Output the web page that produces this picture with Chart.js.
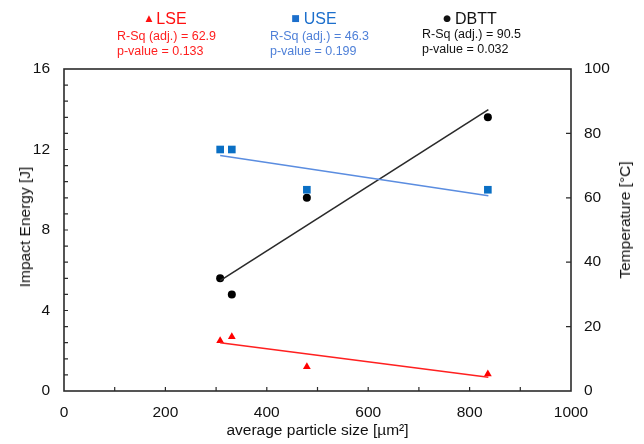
<!DOCTYPE html>
<html>
<head>
<meta charset="utf-8">
<script src="https://cdn.jsdelivr.net/npm/chart.js@4.4.0/dist/chart.umd.min.js"></script>
<style>
  body { margin: 0; background: #fff; font-family: "Liberation Sans", Arial, sans-serif; }
  #wrap { position: relative; width: 644px; height: 444px; }
  #mycanvas { position: absolute; left: 0; top: 0; }
  .title { position: absolute; top: 9px; font-size: 16px; line-height: 18px; white-space: nowrap; transform: translateX(-50%); }
  .title .sym { font-size: 9px; vertical-align: 3px; margin-right: 4px; font-family: "DejaVu Sans", sans-serif; }
  .stat { position: absolute; top: 29px; font-size: 12.5px; line-height: 15px; white-space: nowrap; }
  .axname { position: absolute; font-size: 15.5px; line-height: 16px; color: #111; white-space: nowrap;
            transform: translate(-50%, -50%) rotate(-90deg); }
</style>
</head>
<body>
<div id="wrap">
  <canvas id="mycanvas" width="644" height="444"></canvas>

  <div class="title" style="left:166px;color:#ff1010"><span class="sym">&#9650;</span>LSE</div>
  <div class="stat" style="left:117px;color:#ff2020">R-Sq (adj.) = 62.9<br>p-value = 0.133</div>

  <div class="title" style="left:314px;color:#1c6fcc"><span class="sym">&#9632;</span>USE</div>
  <div class="stat" style="left:270px;color:#4f80d8">R-Sq (adj.) = 46.3<br>p-value = 0.199</div>

  <div class="title" style="left:470px;color:#111"><span class="sym">&#9679;</span>DBTT</div>
  <div class="stat" style="left:422px;top:27px;color:#111">R-Sq (adj.) = 90.5<br>p-value = 0.032</div>

  <div class="axname" style="left:25px;top:227px">Impact Energy [J]</div>
  <div class="axname" style="left:625px;top:220px">Temperature [°C]</div>
</div>

<script>
// measured points, x = average particle size
var sizes = [308, 331, 479, 836];
var lse = [2.5, 2.7, 1.2, 0.85];   // J
var use = [12, 12, 10, 10];        // J
var dbtt = [35, 30, 60, 85];       // degC

// regression line ends
var fitX = [308, 837];
var lseFit = [2.4, 0.68];
var useFit = [11.7, 9.7];
var dbttFit = [34.3, 87.4];

var xTicks = [0, 200, 400, 600, 800, 1000];
var energyTicks = [0, 4, 8, 12, 16];
var tempTicks = [0, 20, 40, 60, 80, 100];

function pts(xs, ys) {
  var out = [];
  for (var i in xs) {
    out.push({x: xs[i], y: ys[i]});
  }
  return out;
}

function fixedTicks(list) {
  return function(s) {
    s.ticks = list.map(function(v) { return {value: v}; });
  };
}

// box round the plot plus the small inward tick marks
var frameTicks = {
  id: 'frameTicks',
  beforeDatasetsDraw: function(chart) {
    var ctx = chart.ctx, a = chart.chartArea, s = chart.scales;
    ctx.save();
    ctx.strokeStyle = '#2b2b2b';
    ctx.lineWidth = 1.6;
    ctx.strokeRect(a.left, a.top, a.right - a.left, a.bottom - a.top);
    ctx.lineWidth = 1.2;
    ctx.beginPath();
    for (var v = 100; v < 1000; v += 100) {
      var x = s.x.getPixelForValue(v);
      ctx.moveTo(x, a.bottom);
      ctx.lineTo(x, a.bottom - 4);
    }
    for (var i = 1; i < 20; i++) {
      var y = s.y.getPixelForValue(i * 0.8);
      ctx.moveTo(a.left, y);
      ctx.lineTo(a.left + 4, y);
    }
    for (var t = 20; t < 100; t += 20) {
      var y2 = s.y2.getPixelForValue(t);
      ctx.moveTo(a.right, y2);
      ctx.lineTo(a.right - 5, y2);
    }
    ctx.stroke();
    ctx.restore();
  }
};

var tickFont = {family: '"Liberation Sans", Arial, sans-serif', size: 15.5};
var plain = function(v) { return String(v); };

var ctx = document.getElementById('mycanvas');

var scatterGraph = new Chart(ctx, {
  type: 'scatter',
  data: {
    datasets: [
      {
        label: 'LSE fit', data: pts(fitX, lseFit), showLine: true, pointRadius: 0,
        borderColor: '#ff2020', borderWidth: 1.6, yAxisID: 'y'
      },
      {
        label: 'USE fit', data: pts(fitX, useFit), showLine: true, pointRadius: 0,
        borderColor: '#5b8de0', borderWidth: 1.6, yAxisID: 'y'
      },
      {
        label: 'DBTT fit', data: pts(fitX, dbttFit), showLine: true, pointRadius: 0,
        borderColor: '#2a2a2a', borderWidth: 1.6, yAxisID: 'y2'
      },
      {
        label: 'LSE', data: pts(sizes, lse), pointStyle: 'triangle', pointRadius: 4.5,
        backgroundColor: '#ff0000', borderColor: '#ff0000', borderWidth: 0, yAxisID: 'y'
      },
      {
        label: 'USE', data: pts(sizes, use), pointStyle: 'rect', pointRadius: 5.4,
        backgroundColor: '#0a6fc4', borderColor: '#0a6fc4', borderWidth: 0, yAxisID: 'y'
      },
      {
        label: 'DBTT', data: pts(sizes, dbtt), pointStyle: 'circle', pointRadius: 4,
        backgroundColor: '#000', borderColor: '#000', borderWidth: 0, yAxisID: 'y2'
      }
    ]
  },
  options: {
    responsive: false,
    animation: false,
    devicePixelRatio: 1,
    layout: {padding: {top: 69, left: 0, right: 0, bottom: 0}},
    plugins: {legend: {display: false}, tooltip: {enabled: false}},
    scales: {
      x: {
        type: 'linear', min: 0, max: 1000,
        afterBuildTicks: fixedTicks(xTicks),
        afterFit: function(s) { s.height = 53; },
        grid: {display: false}, border: {display: false},
        ticks: {font: tickFont, color: '#111', padding: 4, maxRotation: 0, callback: plain},
        title: {display: true, text: 'average particle size [µm²]', font: tickFont, color: '#111', padding: {top: 0, bottom: 3.5}}
      },
      y: {
        position: 'left', min: 0, max: 16,
        afterBuildTicks: fixedTicks(energyTicks),
        afterFit: function(s) { s.width = 64; },
        grid: {display: false}, border: {display: false},
        ticks: {font: tickFont, color: '#111', padding: 6, callback: plain}
      },
      y2: {
        position: 'right', min: 0, max: 100,
        afterBuildTicks: fixedTicks(tempTicks),
        afterFit: function(s) { s.width = 73; },
        grid: {display: false}, border: {display: false},
        ticks: {font: tickFont, color: '#111', padding: 5, callback: plain}
      }
    }
  },
  plugins: [frameTicks]
});
</script>
</body>
</html>
